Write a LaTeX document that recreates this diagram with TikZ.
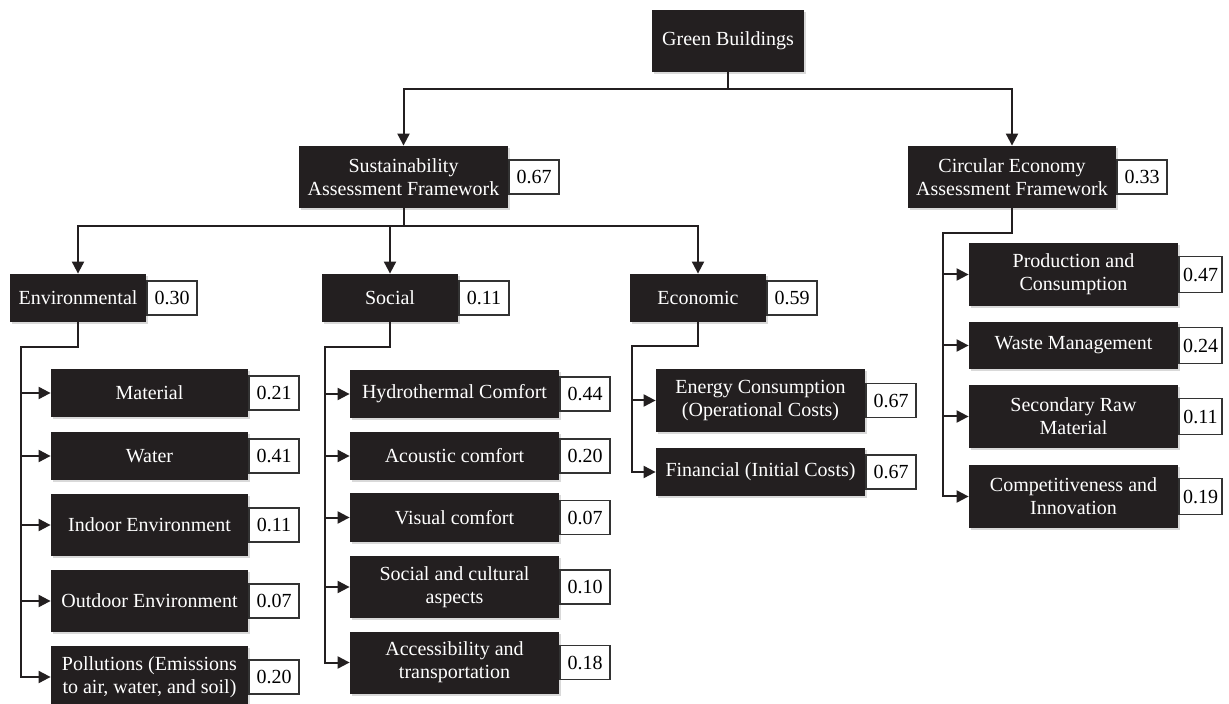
\documentclass[tikz,border=0pt]{standalone}
\usepackage{fontspec}
\setmainfont{Liberation Serif}
\usepackage{tikz}
\usetikzlibrary{positioning}
\usetikzlibrary{shadows}
\usetikzlibrary{arrows.meta}
\definecolor{boxblack}{HTML}{231F20}

\tikzset{
	darkbox/.style={fill=boxblack, text=white, align=center, inner sep=2pt, font=\fontsize{10}{11.5}\selectfont, drop shadow={shadow xshift=1pt, shadow yshift=-1pt, opacity=0.3}},
	bw/.style={minimum width=#1*0.5pt},
	bh/.style={minimum height=#1*0.5pt},
	val/.style={draw=black!80, line width=0.6pt, fill=white, inner sep=1pt, minimum width=25pt, minimum height=17pt, font=\fontsize{10}{12}\selectfont},
	valnarrow/.style={val, minimum width=21.5pt, minimum height=18pt},
	link/.style={draw=boxblack, line width=1pt},
	arr/.style={link, -{Triangle[length=6pt, width=6pt]}}
}

\begin{document}
\begin{tikzpicture}[x=0.5pt, y=-0.5pt]
		\useasboundingbox (0,0) rectangle (1229,704);

		\node[darkbox, bw=152, bh=62] (gb) at (728,41) {Green Buildings};

		\node[darkbox, bw=209, bh=62] (saf) at (403.5,177) {Sustainability\\Assessment Framework};
		\node[val, right=0pt of saf] (safv) {0.67};
		\node[darkbox, bw=208, bh=62] (cef) at (1012,177) {Circular Economy\\Assessment Framework};
		\node[val, right=0pt of cef] (cefv) {0.33};

		\node[darkbox, bw=136, bh=48] (env) at (78,298) {Environmental};
		\node[val, right=0pt of env] (envv) {0.30};
		\node[darkbox, bw=136, bh=48] (soc) at (390,298) {Social};
		\node[val, right=0pt of soc] (socv) {0.11};
		\node[darkbox, bw=136, bh=48] (eco) at (698,298) {Economic};
		\node[val, right=0pt of eco] (ecov) {0.59};

		\node[darkbox, bw=197, bh=48] (mat) at (149.5,393) {Material};
		\node[val, right=0pt of mat] (matv) {0.21};
		\node[darkbox, bw=197, bh=48] (wat) at (149.5,456) {Water};
		\node[val, right=0pt of wat] (watv) {0.41};
		\node[darkbox, bw=197, bh=62] (ind) at (149.5,525) {Indoor Environment};
		\node[val, right=0pt of ind] (indv) {0.11};
		\node[darkbox, bw=197, bh=62] (out) at (149.5,601) {Outdoor Environment};
		\node[val, right=0pt of out] (outv) {0.07};
		\node[darkbox, bw=197, bh=62] (pol) at (149.5,677) {Pollutions (Emissions\\to air, water, and soil)};
		\node[val, right=0pt of pol] (polv) {0.20};

		\node[darkbox, bw=209, bh=48] (hyd) at (454.5,394) {Hydrothermal Comfort};
		\node[val, right=0pt of hyd] (hydv) {0.44};
		\node[darkbox, bw=209, bh=48] (aco) at (454.5,456) {Acoustic comfort};
		\node[val, right=0pt of aco] (acov) {0.20};
		\node[darkbox, bw=209, bh=48] (vis) at (454.5,517.5) {Visual comfort};
		\node[val, right=0pt of vis] (visv) {0.07};
		\node[darkbox, bw=209, bh=62] (scu) at (454.5,587) {Social and cultural\\aspects};
		\node[val, right=0pt of scu] (scuv) {0.10};
		\node[darkbox, bw=209, bh=62] (acc) at (454.5,662.5) {Accessibility and\\transportation};
		\node[val, right=0pt of acc] (accv) {0.18};

		\node[darkbox, bw=209, bh=63] (ene) at (760.5,400.5) {Energy Consumption\\(Operational Costs)};
		\node[val, right=0pt of ene] (enev) {0.67};
		\node[darkbox, bw=209, bh=48] (fin) at (760.5,472) {Financial (Initial Costs)};
		\node[val, right=0pt of fin] (finv) {0.67};

		\node[darkbox, bw=209, bh=63] (pro) at (1073.5,274.5) {Production and\\Consumption};
		\node[valnarrow, right=0pt of pro] (prov) {0.47};
		\node[darkbox, bw=209, bh=47] (was) at (1073.5,345.5) {Waste Management};
		\node[valnarrow, right=0pt of was] (wasv) {0.24};
		\node[darkbox, bw=209, bh=63] (sec) at (1073.5,416.5) {Secondary Raw\\Material};
		\node[valnarrow, right=0pt of sec] (secv) {0.11};
		\node[darkbox, bw=209, bh=63] (com) at (1073.5,496.5) {Competitiveness and\\Innovation};
		\node[valnarrow, right=0pt of com] (comv) {0.19};

		\draw[arr] (gb.south) -- ++(0,17) -| (saf.north);
		\draw[arr] (gb.south) -- ++(0,17) -| (cef.north);

		\draw[arr] (saf.south) -- ++(0,18) -| (env.north);
		\draw[arr] (saf.south) -- ++(0,18) -| (soc.north);
		\draw[arr] (saf.south) -- ++(0,18) -| (eco.north);

		\coordinate (envt) at (21,347);
		\draw[arr] (env.south) |- (envt) |- (pol.west);
		\draw[arr] (envt |- mat.west) -- (mat.west);
		\draw[arr] (envt |- wat.west) -- (wat.west);
		\draw[arr] (envt |- ind.west) -- (ind.west);
		\draw[arr] (envt |- out.west) -- (out.west);

		\coordinate (soct) at (325,347);
		\draw[arr] (soc.south) |- (soct) |- (acc.west);
		\draw[arr] (soct |- hyd.west) -- (hyd.west);
		\draw[arr] (soct |- aco.west) -- (aco.west);
		\draw[arr] (soct |- vis.west) -- (vis.west);
		\draw[arr] (soct |- scu.west) -- (scu.west);

		\coordinate (ecot) at (632,346);
		\draw[arr] (eco.south) |- (ecot) |- (fin.west);
		\draw[arr] (ecot |- ene.west) -- (ene.west);

		\coordinate (ceft) at (943,233);
		\draw[arr] (cef.south) |- (ceft) |- (com.west);
		\draw[arr] (ceft |- pro.west) -- (pro.west);
		\draw[arr] (ceft |- was.west) -- (was.west);
		\draw[arr] (ceft |- sec.west) -- (sec.west);
	\end{tikzpicture}
\end{document}
